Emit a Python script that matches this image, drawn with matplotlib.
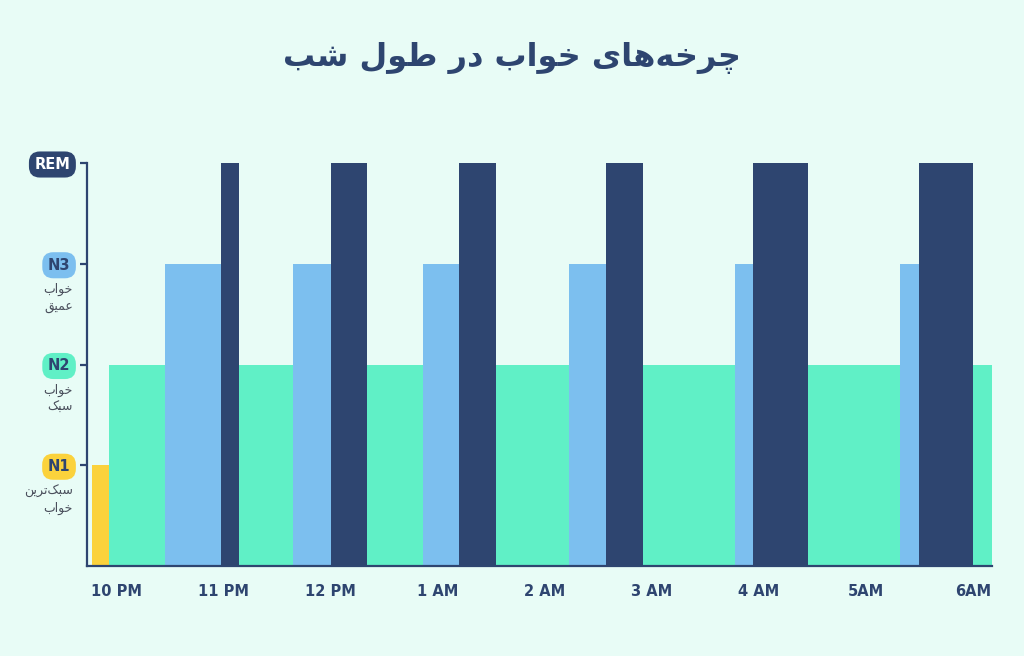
import numpy as np
import matplotlib.pyplot as plt

# presentation forms (isolated, final, initial, medial) for the letters used
FORMS = {
    "\u0627": ("\uFE8D", "\uFE8E"),
    "\u0628": ("\uFE8F", "\uFE90", "\uFE91", "\uFE92"),
    "\u062A": ("\uFE95", "\uFE96", "\uFE97", "\uFE98"),
    "\u062E": ("\uFEA5", "\uFEA6", "\uFEA7", "\uFEA8"),
    "\u062F": ("\uFEA9", "\uFEAA"),
    "\u0631": ("\uFEAD", "\uFEAE"),
    "\u0633": ("\uFEB1", "\uFEB2", "\uFEB3", "\uFEB4"),
    "\u0634": ("\uFEB5", "\uFEB6", "\uFEB7", "\uFEB8"),
    "\u0637": ("\uFEC1", "\uFEC2", "\uFEC3", "\uFEC4"),
    "\u0639": ("\uFEC9", "\uFECA", "\uFECB", "\uFECC"),
    "\u0642": ("\uFED5", "\uFED6", "\uFED7", "\uFED8"),
    "\u0644": ("\uFEDD", "\uFEDE", "\uFEDF", "\uFEE0"),
    "\u0645": ("\uFEE1", "\uFEE2", "\uFEE3", "\uFEE4"),
    "\u0646": ("\uFEE5", "\uFEE6", "\uFEE7", "\uFEE8"),
    "\u0647": ("\uFEE9", "\uFEEA", "\uFEEB", "\uFEEC"),
    "\u0648": ("\uFEED", "\uFEEE"),
    "\u0686": ("\uFB7A", "\uFB7B", "\uFB7C", "\uFB7D"),
    "\u06A9": ("\uFB8E", "\uFB8F", "\uFB90", "\uFB91"),
    "\u06CC": ("\uFBFC", "\uFBFD", "\uFBFE", "\uFBFF"),
}


def fa(s):
    # join letters and flip to visual order (matplotlib has no shaping)
    out = []
    for i, ch in enumerate(s):
        f = FORMS.get(ch)
        if f is None:
            out.append(ch)
            continue
        prev = s[i - 1] if i > 0 else ""
        nxt = s[i + 1] if i + 1 < len(s) else ""
        p = prev in FORMS and len(FORMS[prev]) == 4
        n = len(f) == 4 and nxt in FORMS
        out.append(f[int(p) + 2 * int(n)])
    return "".join(out).replace("\u200c", "")[::-1]


title = "چرخه\u200cهای خواب در طول شب"

hours = ["10 PM", "11 PM", "12 PM", "1 AM", "2 AM", "3 AM", "4 AM", "5AM", "6AM"]

# segment edges in hours after 10 PM, and stage of each segment (1=N1 .. 4=REM)
bounds = [-0.23, -0.07, 0.45, 0.97, 1.14, 1.65, 2.00, 2.34, 2.86, 3.20, 3.54,
          4.23, 4.57, 4.92, 5.78, 5.95, 6.46, 7.32, 7.50, 8.00, 8.18]
stages = [1, 2, 3, 4, 2, 3, 4, 2, 3, 4, 2, 3, 4, 2, 3, 4, 2, 3, 4, 2]

stage_names = ["N1", "N2", "N3", "REM"]
stage_notes = ["سبک\u200cترین\nخواب", "خواب\nسبک", "خواب\nعمیق", ""]

bg = "#e8fcf6"
navy = "#2e4570"
colors = {1: "#fbd23c", 2: "#60f0c6", 3: "#7cbfef", 4: navy}
badge_text = {1: navy, 2: navy, 3: navy, 4: "white"}

fig = plt.figure(figsize=(10.24, 6.56), dpi=100, facecolor=bg)
ax = fig.add_axes([87 / 1024, 1 - 566 / 656, 905 / 1024, 403 / 656])
ax.set_facecolor(bg)

left = np.array(bounds[:-1])
width = np.diff(bounds)
ax.bar(left, stages, width=width, align="edge",
       color=[colors[s] for s in stages], linewidth=0)

ax.set_xlim(-0.28, 8.18)
ax.set_ylim(0, 4)

for side in ["top", "right"]:
    ax.spines[side].set_visible(False)
for side in ["left", "bottom"]:
    ax.spines[side].set_color(navy)
    ax.spines[side].set_linewidth(1.6)

ax.set_xticks(range(len(hours)))
ax.set_xticklabels(hours, fontsize=10.5, fontweight="bold", color=navy)
ax.tick_params(axis="x", length=0, pad=13)

ax.set_yticks([1, 2, 3, 4])
ax.set_yticklabels(stage_names, fontsize=10.5, fontweight="bold")
ax.tick_params(axis="y", length=5, width=1.6, color=navy, pad=7)
for lab, s in zip(ax.get_yticklabels(), [1, 2, 3, 4]):
    lab.set_color(badge_text[s])
    lab.set_bbox(dict(boxstyle="round,pad=0.38,rounding_size=0.75",
                      fc=colors[s], ec="none"))

for s, note in zip([1, 2, 3, 4], stage_notes):
    if not note:
        continue
    txt = "\n".join(fa(line) for line in note.split("\n"))
    ax.annotate(txt, xy=(0, s), xycoords=ax.get_yaxis_transform(),
                xytext=(-10, -14), textcoords="offset points",
                ha="right", va="top", fontsize=9, color="#4a4f5c",
                linespacing=1.4, family=["DejaVu Sans"])

fig.text(0.5, 1 - 58 / 656, fa(title), ha="center", va="center",
         fontsize=23, fontweight="bold", color=navy, family=["DejaVu Sans"])

fig.savefig("out.png", dpi=100, facecolor=bg)
